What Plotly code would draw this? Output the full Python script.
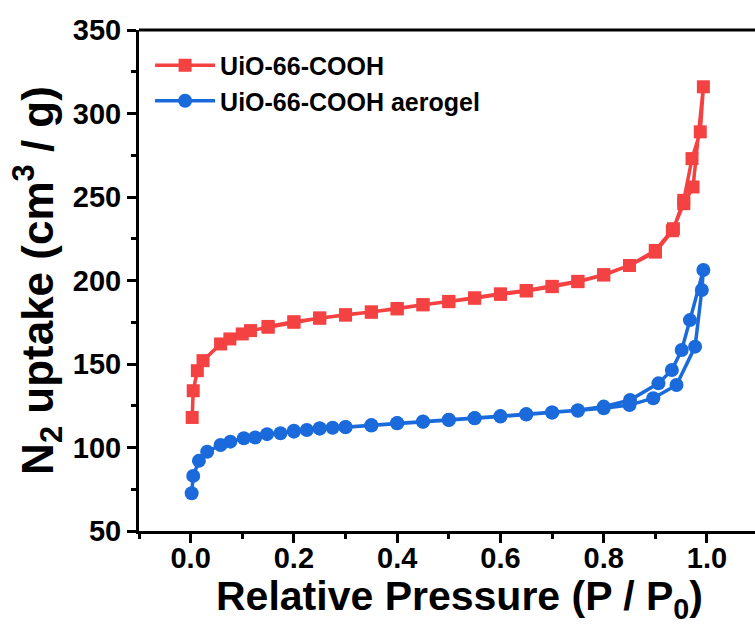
import plotly.graph_objects as go

# N2 sorption isotherms (77 K): adsorption branch followed by desorption branch
cooh_ads_p = [0.003, 0.005, 0.013, 0.024, 0.058, 0.076, 0.10, 0.116, 0.15, 0.20,
              0.25, 0.30, 0.35, 0.40, 0.45, 0.50, 0.55, 0.60, 0.65, 0.70,
              0.75, 0.80, 0.85, 0.90, 0.933, 0.955, 0.973, 0.993]
cooh_ads_v = [118, 134, 146, 152, 162, 165, 168, 170, 172, 175,
              177.5, 179.3, 181, 183, 185.5, 187.3, 189.4, 191.7, 193.7, 196.3,
              199.3, 203.3, 209, 217, 229.8, 246, 256, 316]
cooh_des_p = [0.987, 0.971, 0.955, 0.935, 0.90, 0.85, 0.80, 0.75, 0.70, 0.65,
              0.60, 0.55, 0.50, 0.45, 0.40, 0.35, 0.30, 0.25, 0.20, 0.15]
cooh_des_v = [289, 273, 248, 231, 218, 209, 203.5, 199.5, 196.5, 194,
              192, 189.6, 187.5, 185.5, 183.2, 181.2, 179.5, 177.5, 175.3, 172.5]

aero_ads_p = [0.002, 0.005, 0.016, 0.032, 0.058, 0.077, 0.103, 0.125, 0.148, 0.174,
              0.20, 0.225, 0.25, 0.275, 0.30, 0.35, 0.40, 0.45, 0.50, 0.55,
              0.60, 0.65, 0.70, 0.75, 0.80, 0.85, 0.896, 0.941, 0.977, 0.99, 0.993]
aero_ads_v = [72.6, 83, 92, 97.5, 101.5, 103.5, 105.5, 106, 108, 108.5,
              109.5, 110.5, 111.3, 111.8, 112.2, 113.2, 114.5, 115.4, 116.5, 117.5,
              118.5, 119.8, 121, 122, 123.5, 125.4, 129.5, 137.4, 160.4, 194.3, 206.3]
aero_des_p = [0.967, 0.951, 0.932, 0.906, 0.851, 0.80, 0.75, 0.70, 0.65, 0.60,
              0.55, 0.50, 0.45, 0.40, 0.35, 0.30, 0.25, 0.20]
aero_des_v = [176.3, 158.4, 146.4, 138.4, 128.4, 124.5, 122.3, 121, 120, 118.8,
              117.6, 116.6, 115.5, 114.6, 113.4, 112.3, 111.5, 110]

series_names = ["UiO-66-COOH", "UiO-66-COOH aerogel"]
x_ticks = [0.0, 0.2, 0.4, 0.6, 0.8, 1.0]
x_tick_text = ["0.0", "0.2", "0.4", "0.6", "0.8", "1.0"]
y_ticks = [50, 100, 150, 200, 250, 300, 350]
x_title = "Relative Pressure (P / P<sub>0</sub>)"
y_title = "N<sub>2</sub> uptake (cm<sup>3</sup> / g)"

RED = "#F44141"
BLUE = "#1A6ADC"
FONT = "Liberation Sans, Arial, sans-serif"

fig = go.Figure()
fig.add_trace(go.Scatter(
    x=cooh_ads_p + cooh_des_p, y=cooh_ads_v + cooh_des_v,
    mode="lines+markers", name=series_names[0],
    line=dict(color=RED, width=3.5),
    marker=dict(symbol="square", size=13, color=RED),
))
fig.add_trace(go.Scatter(
    x=aero_ads_p + aero_des_p, y=aero_ads_v + aero_des_v,
    mode="lines+markers", name=series_names[1],
    line=dict(color=BLUE, width=3.5),
    marker=dict(symbol="circle", size=14, color=BLUE),
))

axis_common = dict(
    showline=True, linecolor="black", linewidth=3, mirror=False,
    ticks="outside", tickcolor="black", tickwidth=3, ticklen=9,
    showgrid=False, zeroline=False,
    tickfont=dict(family=FONT, size=29, color="black", weight="bold"),
)

fig.update_layout(
    width=755, height=624,
    margin=dict(l=139, r=0, t=30, b=93),
    paper_bgcolor="white", plot_bgcolor="white",
    font=dict(family=FONT, color="black"),
    xaxis=dict(
        range=[-0.1, 1.093], tickvals=x_ticks, ticktext=x_tick_text,
        ticklabelstandoff=-10,
        minor=dict(dtick=0.1, tick0=0, ticks="outside", ticklen=5,
                   tickwidth=3, tickcolor="black"),
        **axis_common,
    ),
    yaxis=dict(
        range=[50, 350], tickvals=y_ticks,
        minor=dict(dtick=25, tick0=0, ticks="outside", ticklen=5,
                   tickwidth=3, tickcolor="black"),
        title=dict(text=y_title, standoff=6,
                   font=dict(family=FONT, size=44, color="black", weight="bold")),
        **axis_common,
    ),
    legend=dict(
        x=0.018, y=0.975, xanchor="left", yanchor="top",
        bgcolor="rgba(0,0,0,0)", borderwidth=0,
        font=dict(family=FONT, size=25, color="black", weight="bold"),
        itemwidth=60, tracegroupgap=0,
    ),
    shapes=[dict(type="line", xref="paper", yref="paper", x0=0, x1=1, y0=1, y1=1,
                 line=dict(color="black", width=3))],
    annotations=[dict(
        text=x_title, xref="paper", yref="paper", x=0.5195, y=-0.136,
        xanchor="center", yanchor="middle", showarrow=False,
        font=dict(family=FONT, size=41, color="black", weight="bold"),
    )],
)

fig.write_html("out.html")
